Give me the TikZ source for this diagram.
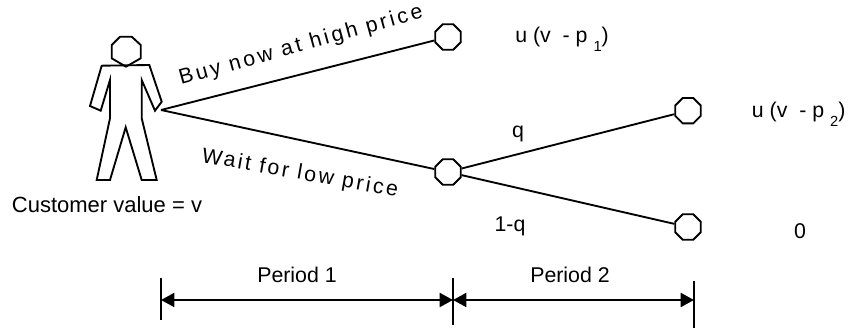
\documentclass[tikz,border=0pt]{standalone}
\usepackage{fontspec}
\setmainfont{Liberation Sans}
\usetikzlibrary{arrows.meta, positioning, shapes.geometric}
\newcommand{\lowsub}[1]{\raisebox{-6.5pt}{\fontsize{11}{11}\selectfont #1}}

\begin{document}
\begin{tikzpicture}[
      x=0.75pt, y=-0.75pt,
      state/.style={draw, regular polygon, regular polygon sides=8, line width=1.4pt, minimum size=27.5*0.75pt, inner sep=0pt},
      branch/.style={line width=1.4pt},
      label/.style={font=\fontsize{16}{19}\selectfont, inner sep=0pt, anchor=base},
      slanted/.style={font=\fontsize{16}{19}\selectfont\addfontfeature{LetterSpace=#1}, inner sep=0pt},
      span/.style={{Triangle[length=10pt,width=10.5pt]}-{Triangle[length=10pt,width=10.5pt]}, line width=1.4pt},
      tick/.style={line width=1.4pt}
    ]
      \useasboundingbox (0,0) rectangle (851,331);

      \draw[line width=1.4pt, line join=round] (120,36.7) -- (131.7,36.7) -- (140.7,45) -- (140.7,58.3) -- (126,66.7) -- (111.7,58.3) -- (111.7,45) -- cycle;
      \draw[line width=1.4pt, line join=miter] (101.7,65.7) -- (149.3,65) -- (161.7,101.7) -- (155,110.7) -- (141.7,80) -- (141.7,118.3) -- (156.7,180) -- (141.7,180) -- (125.7,127.3) -- (110,180) -- (96.7,180) -- (110,118.3) -- (110,80) -- (100.7,110.7) -- (90,106) -- cycle;

      \coordinate (root) at (161,110);
      \node[state] (high) at (448,37) {};
      \node[state] (low) at (448,172) {};
      \node[state] (yes) at (688,110.7) {};
      \node[state] (no) at (688,227) {};
      \draw[branch] (root) -- (high);
      \draw[branch] (root) -- (low);
      \draw[branch] (low) -- (yes);
      \draw[branch] (low) -- (no);

      \node[slanted=14, rotate=15.5] (buy) at (301,46) {Buy now at high price};
      \node[slanted=12, rotate=-10] (wait) at (300,174) {Wait for low price};
      \node[label, font=\fontsize{16.5}{19}\selectfont] (value) at (107,213) {Customer value = v};
      \node[label] (up) at (518,138) {q};
      \node[label] (down) at (510,232) {1-q};
      \node[label, anchor=base west] (pay1) at (515,43) {u (v\ \ - p \lowsub{1})};
      \node[label, anchor=base west] (pay2) at (751.7,118) {u (v\ \ - p \lowsub{2})};
      \node[label] (zero) at (800,239) {0};

      \coordinate (t0) at (161,300);
      \coordinate (t1) at (453,300);
      \coordinate (t2) at (694,300);
      \draw[tick] (161,278) -- (161,320);
      \draw[tick] (453,278) -- (453,325);
      \draw[tick] (694,281) -- (694,328);
      \draw[span] (t0) -- (t1);
      \draw[span] (t1) -- (t2);
      \node[label] (first) at (297,283) {Period 1};
      \node[label] (second) at (570,283) {Period 2};
    \end{tikzpicture}
\end{document}
